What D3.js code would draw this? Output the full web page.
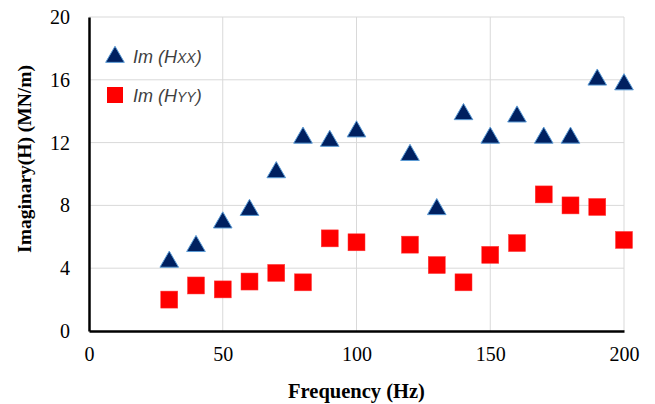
<!DOCTYPE html>
<html>
<head>
<meta charset="utf-8">
<script src="https://cdn.jsdelivr.net/npm/d3@7"></script>
<style>
  body { margin: 0; background: #fff; }
  svg { display: block; }
</style>
</head>
<body>
<div id="chart"></div>
<script>
// frequencies (Hz)
const freq = [30, 40, 50, 60, 70, 80, 90, 100, 120, 130, 140, 150, 160, 170, 180, 190, 200];
// Im(Hxx) and Im(Hyy), MN/m
const imHxx = [4.5, 5.5, 7.0, 7.8, 10.2, 12.4, 12.2, 12.8, 11.3, 7.85, 13.9, 12.4, 13.75, 12.4, 12.4, 16.1, 15.8];
const imHyy = [2.0, 2.9, 2.65, 3.15, 3.7, 3.1, 5.9, 5.65, 5.5, 4.2, 3.1, 4.85, 5.6, 8.7, 8.0, 7.9, 5.8];
const xTicks = [0, 50, 100, 150, 200];
const yTicks = [0, 4, 8, 12, 16, 20];

const width = 655, height = 404;
const margin = {top: 17, right: 31, bottom: 73, left: 89};

var svg = d3.select("#chart").append("svg")
  .attr("width", width)
  .attr("height", height);

const x = d3.scaleLinear().domain([0, 200]).range([margin.left, width - margin.right]);
const y = d3.scaleLinear().domain([0, 20]).range([height - margin.bottom, margin.top]);

const serif = "'Liberation Serif', 'Times New Roman', serif";

// gridlines
svg.append("g").selectAll("line.hg")
  .data(yTicks.filter(d => d > 0))
  .enter().append("line")
  .attr("x1", x(0)).attr("x2", x(200))
  .attr("y1", d => y(d)).attr("y2", d => y(d))
  .attr("stroke", "#d9d9d9").attr("stroke-width", 1);

svg.append("g").selectAll("line.vg")
  .data(xTicks.filter(d => d > 0))
  .enter().append("line")
  .attr("x1", d => x(d)).attr("x2", d => x(d))
  .attr("y1", y(0)).attr("y2", y(20))
  .attr("stroke", "#d9d9d9").attr("stroke-width", 1);

// axes
const xAxis = svg.append("g")
  .attr("transform", `translate(0,${y(0)})`)
  .call(d3.axisBottom(x).tickValues(xTicks).tickSize(0).tickPadding(16));
const yAxis = svg.append("g")
  .attr("transform", `translate(${x(0)},0)`)
  .call(d3.axisLeft(y).tickValues(yTicks).tickSize(0).tickPadding(19));

[xAxis, yAxis].forEach(a => {
  a.select(".domain").attr("stroke", "#000").attr("stroke-width", 2.5);
  a.selectAll("text").attr("font-family", serif).attr("font-size", 20).attr("fill", "#000");
});

// axis titles
svg.append("text")
  .attr("x", x(100)).attr("y", 398)
  .attr("text-anchor", "middle")
  .attr("font-family", serif).attr("font-weight", "bold").attr("font-size", 20.5)
  .text("Frequency (Hz)");

svg.append("text")
  .attr("transform", "translate(31,159) rotate(-90)")
  .attr("text-anchor", "middle")
  .attr("font-family", serif).attr("font-weight", "bold").attr("font-size", 19.5)
  .text("Imaginary(H) (MN/m)");

// markers
const tri = d3.symbol().type(d3.symbolTriangle).size(150);

svg.append("g").selectAll("rect")
  .data(freq.map((f, i) => [f, imHyy[i]]))
  .enter().append("rect")
  .attr("x", d => x(d[0]) - 8.5)
  .attr("y", d => y(d[1]) - 8.5)
  .attr("width", 17).attr("height", 17)
  .attr("fill", "#ff0000")
  .attr("stroke", "#ff3b3b").attr("stroke-width", 0.5);

svg.append("g").selectAll("path")
  .data(freq.map((f, i) => [f, imHxx[i]]))
  .enter().append("path")
  .attr("d", tri)
  .attr("transform", d => `translate(${x(d[0])},${y(d[1]) + 1.5})`)
  .attr("fill", "#002060")
  .attr("stroke", "#5b9bd5").attr("stroke-width", 1);

// legend
const legend = svg.append("g").attr("font-family", "'Liberation Sans', Arial, sans-serif")
  .attr("font-style", "italic").attr("fill", "#404040");

legend.append("path").attr("d", tri)
  .attr("transform", "translate(115,57)")
  .attr("fill", "#002060").attr("stroke", "#5b9bd5").attr("stroke-width", 1);
legend.append("rect").attr("x", 107).attr("y", 87).attr("width", 16).attr("height", 16)
  .attr("fill", "#ff0000");

const t1 = legend.append("text").attr("x", 133).attr("y", 63).attr("font-size", 18);
t1.append("tspan").text("Im (H");
t1.append("tspan").attr("font-size", 14).text("XX");
t1.append("tspan").text(")");

const t2 = legend.append("text").attr("x", 133).attr("y", 102).attr("font-size", 18);
t2.append("tspan").text("Im (H");
t2.append("tspan").attr("font-size", 14).text("YY");
t2.append("tspan").text(")");
</script>
</body>
</html>
